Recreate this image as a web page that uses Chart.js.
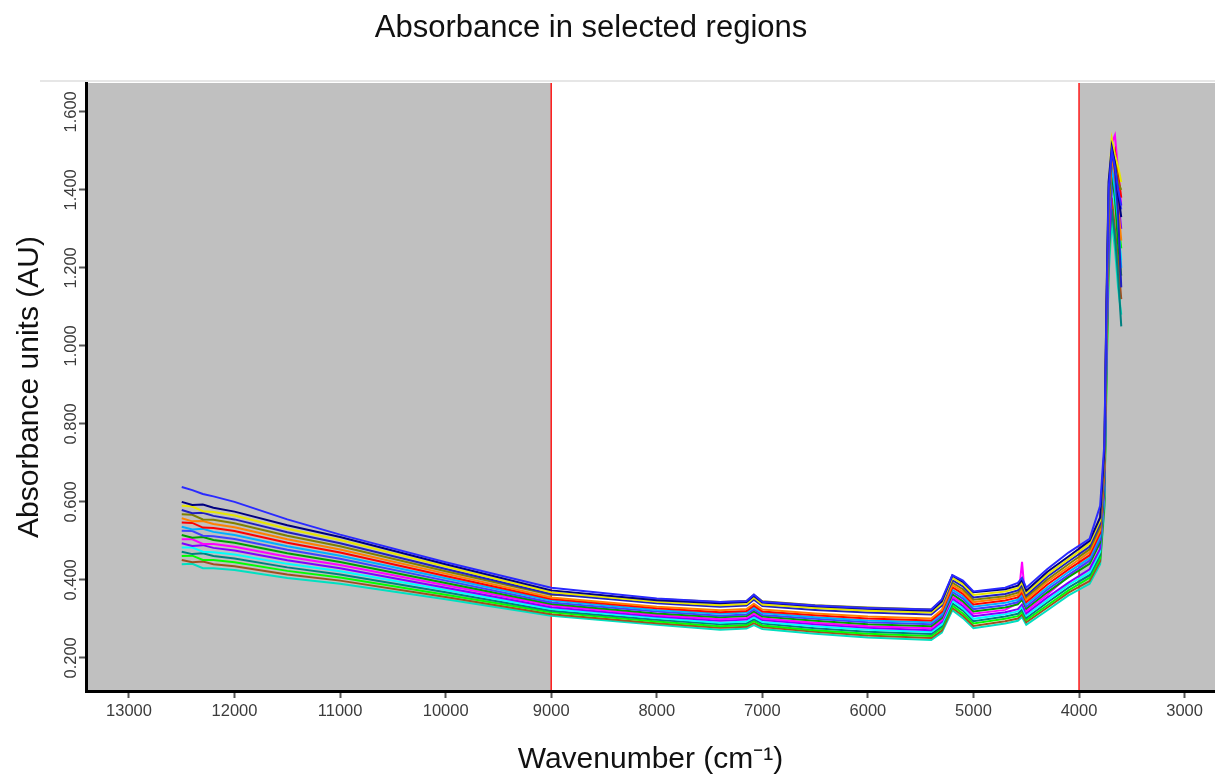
<!DOCTYPE html>
<html><head><meta charset="utf-8">
<script src="https://cdn.jsdelivr.net/npm/chart.js@4.4.0/dist/chart.umd.min.js"></script>
<style>html,body{margin:0;padding:0;background:#fff;overflow:hidden}canvas{display:block}</style>
</head><body>
<canvas id="c" width="1215" height="778"></canvas>
<script>
// Wavenumber grid (cm-1) shared by all spectra
const wavenumbers = [12500,12400,12300,12200,12000,11500,11000,10000,9000,8000,7400,7150,7080,7000,6500,6000,5400,5300,5200,5100,5000,4700,4580,4540,4500,4300,4100,3900,3800,3760,3740,3720,3690,3660,3630,3600];

// Absorbance spectra (AU)
const spec00 = [.440,.441,.430,.430,.425,.405,.390,.350,.308,.285,.272,.275,.284,.274,.262,.252,.246,.265,.322,.302,.276,.288,.295,.305,.285,.322,.360,.390,.440,.58,.92,1.18,1.32,1.25,1.15,1.08];
const spec01 = [.451,.445,.447,.440,.435,.414,.398,.356,.312,.289,.277,.280,.289,.279,.267,.257,.251,.270,.328,.308,.282,.294,.301,.311,.291,.329,.367,.397,.448,.59,.95,1.22,1.38,1.30,1.22,1.12];
const spec02 = [.461,.462,.451,.451,.445,.423,.406,.362,.317,.293,.281,.284,.294,.283,.271,.262,.256,.276,.334,.314,.288,.300,.307,.318,.297,.335,.373,.405,.456,.60,.90,1.20,1.45,1.40,1.32,1.25];
const spec03 = [.472,.466,.468,.461,.455,.432,.414,.368,.321,.298,.286,.289,.299,.288,.276,.267,.261,.281,.340,.321,.294,.306,.313,.324,.302,.342,.380,.412,.464,.61,.98,1.25,1.35,1.28,1.18,1.05];
const spec04 = [.483,.483,.472,.471,.465,.441,.422,.374,.325,.302,.290,.293,.304,.292,.281,.272,.266,.286,.346,.327,.300,.312,.319,.330,.308,.348,.387,.419,.472,.62,1.00,1.28,1.42,1.36,1.30,1.22];
const spec05 = [.494,.487,.489,.482,.475,.450,.430,.380,.330,.306,.295,.298,.309,.297,.286,.277,.271,.292,.352,.333,.307,.317,.325,.337,.314,.355,.393,.427,.480,.63,.96,1.24,1.40,1.45,1.38,1.30];
const spec06 = [.504,.504,.492,.492,.485,.459,.438,.386,.334,.310,.299,.302,.314,.301,.290,.281,.276,.297,.357,.339,.313,.323,.340,.446,.320,.362,.410,.450,.560,.68,1.05,1.35,1.52,1.54,1.45,1.36];
const spec07 = [.515,.508,.510,.502,.495,.468,.446,.392,.338,.314,.304,.307,.319,.306,.295,.286,.281,.302,.363,.345,.319,.329,.337,.349,.326,.368,.407,.441,.496,.65,1.04,1.32,1.44,1.38,1.26,1.18];
const spec08 = [.526,.525,.513,.512,.505,.477,.454,.398,.342,.319,.308,.311,.324,.310,.300,.291,.286,.307,.369,.352,.325,.335,.343,.355,.331,.375,.413,.449,.504,.66,1.00,1.27,1.50,1.46,1.40,1.35];
const spec09 = [.536,.529,.531,.523,.515,.486,.462,.404,.347,.323,.313,.316,.329,.315,.304,.296,.291,.313,.375,.358,.331,.341,.349,.362,.337,.381,.420,.456,.512,.67,1.05,1.33,1.46,1.40,1.32,1.20];
const spec10 = [.547,.546,.534,.533,.525,.495,.470,.410,.351,.327,.317,.320,.334,.319,.309,.301,.296,.318,.381,.364,.337,.347,.355,.368,.343,.388,.427,.463,.520,.68,1.06,1.35,1.47,1.50,1.44,1.38];
const spec11 = [.558,.550,.551,.543,.535,.504,.478,.416,.355,.331,.322,.325,.339,.324,.314,.306,.301,.323,.387,.370,.343,.353,.361,.374,.349,.395,.433,.471,.528,.69,1.08,1.36,1.49,1.44,1.36,1.27];
const spec12 = [.568,.567,.555,.554,.545,.513,.486,.422,.362,.351,.343,.346,.362,.345,.335,.329,.324,.348,.393,.376,.349,.358,.367,.381,.355,.401,.440,.478,.536,.70,1.07,1.34,1.52,1.48,1.42,1.40];
const spec13 = [.579,.571,.572,.564,.555,.522,.494,.428,.364,.340,.331,.334,.349,.333,.323,.316,.311,.334,.399,.383,.355,.364,.373,.387,.360,.408,.447,.485,.544,.71,1.09,1.38,1.50,1.45,1.34,1.15];
const spec14 = [.590,.588,.576,.574,.565,.531,.502,.434,.368,.344,.335,.338,.354,.337,.328,.321,.316,.339,.405,.389,.361,.370,.379,.393,.366,.414,.453,.493,.552,.72,1.10,1.40,1.53,1.49,1.46,1.42];
const spec15 = [.600,.592,.593,.585,.575,.540,.510,.440,.373,.348,.340,.343,.359,.342,.332,.326,.321,.345,.411,.395,.368,.376,.385,.400,.372,.421,.460,.500,.560,.73,1.12,1.42,1.51,1.47,1.39,1.33];
const spec16 = [.638,.630,.620,.614,.600,.555,.516,.445,.380,.352,.343,.346,.362,.344,.334,.328,.324,.350,.412,.398,.370,.380,.392,.405,.380,.428,.470,.505,.590,.75,1.10,1.40,1.50,1.46,1.40,1.36];

const spectra = [spec16,spec15,spec14,spec13,spec12,spec11,spec10,spec09,spec08,spec07,spec06,spec05,spec04,spec03,spec02,spec01,spec00];
const spectrumColors = ['#2a2aff','#000080','#e6e600','#2020c0','#808000','#ff8000','#ff0000','#00b0ff','#4040ff','#00a000','#ff00ff','#8000ff','#00ffff','#008080','#00ff00','#a05020','#00e0c0'];

// Selected region limits (cm-1) and axis ticks
const selectedRegion = [9000, 4000];
const xTickValues = [13000,12000,11000,10000,9000,8000,7000,6000,5000,4000,3000];
const yTickValues = [0.2,0.4,0.6,0.8,1.0,1.2,1.4,1.6];

const FONT = '"Liberation Sans", Arial, sans-serif';

const regionPlugin = {
  id: 'regions',
  beforeDraw(chart) {
    const {ctx, chartArea: a, scales: {x}} = chart;
    const p1 = x.getPixelForValue(selectedRegion[0]);
    const p2 = x.getPixelForValue(selectedRegion[1]);
    ctx.save();
    ctx.fillStyle = '#c0c0c0';
    ctx.fillRect(a.left, a.top, p1 - a.left, a.bottom - a.top);
    ctx.fillRect(p2, a.top, a.right - p2, a.bottom - a.top);
    ctx.strokeStyle = '#e6e6e6';
    ctx.lineWidth = 2;
    ctx.beginPath(); ctx.moveTo(40, a.top - 2); ctx.lineTo(chart.width, a.top - 2); ctx.stroke();
    ctx.strokeStyle = '#ff1a1a';
    ctx.lineWidth = 1.5;
    [p1, p2].forEach(p => { ctx.beginPath(); ctx.moveTo(p, a.top); ctx.lineTo(p, a.bottom); ctx.stroke(); });
    ctx.restore();
  },
  afterDraw(chart) {
    const ctx = chart.ctx;
    ctx.save();
    ctx.font = '31px ' + FONT;
    ctx.fillStyle = '#111';
    ctx.textAlign = 'center';
    ctx.textBaseline = 'alphabetic';
    ctx.fillText('Absorbance in selected regions', 591, 37);
    ctx.restore();
  }
};

const datasets = spectra.map((s, i) => ({
  data: wavenumbers.map((w, j) => ({x: w, y: s[j]})),
  borderColor: spectrumColors[i],
  borderWidth: 2,
  pointRadius: 0,
  tension: 0,
  fill: false
}));

new Chart(document.getElementById('c'), {
  type: 'line',
  data: {datasets},
  plugins: [regionPlugin],
  options: {
    responsive: false,
    animation: false,
    devicePixelRatio: 1,
    layout: {padding: {top: 83, left: 0, right: 0, bottom: 0}},
    plugins: {legend: {display: false}, tooltip: {enabled: false}, title: {display: false}},
    scales: {
      x: {
        type: 'linear', reverse: true, min: 2712, max: 13407,
        afterBuildTicks: s => { s.ticks = xTickValues.map(v => ({value: v})); },
        ticks: {autoSkip: false, maxRotation: 0, minRotation: 0, padding: 4, color: '#3c3c3c',
          font: {family: FONT, size: 16.5}, callback: v => String(Math.round(v))},
        grid: {display: true, drawOnChartArea: false, drawTicks: true, tickLength: 7, tickColor: '#555', tickWidth: 2},
        border: {display: true, color: '#000', width: 3},
        title: {display: true, text: 'Wavenumber (cm⁻¹)', color: '#111', font: {family: FONT, size: 30}, padding: {top: 0, bottom: 0}},
        afterFit: s => { s.height = 87; }
      },
      y: {
        type: 'linear', min: 0.115, max: 1.674,
        afterBuildTicks: s => { s.ticks = yTickValues.map(v => ({value: v})); },
        ticks: {autoSkip: false, minRotation: 90, maxRotation: 90, crossAlign: 'center', padding: -13, color: '#3c3c3c',
          font: {family: FONT, size: 16.5}, callback: v => Number(v).toFixed(3)},
        grid: {display: true, drawOnChartArea: false, drawTicks: true, tickLength: 7, tickColor: '#555', tickWidth: 2},
        border: {display: true, color: '#000', width: 3},
        title: {display: true, text: 'Absorbance units (AU)', color: '#111', font: {family: FONT, size: 30}, padding: {top: 12, bottom: 0}},
        afterFit: s => { s.width = 86; }
      }
    }
  }
});
</script>
</body></html>
